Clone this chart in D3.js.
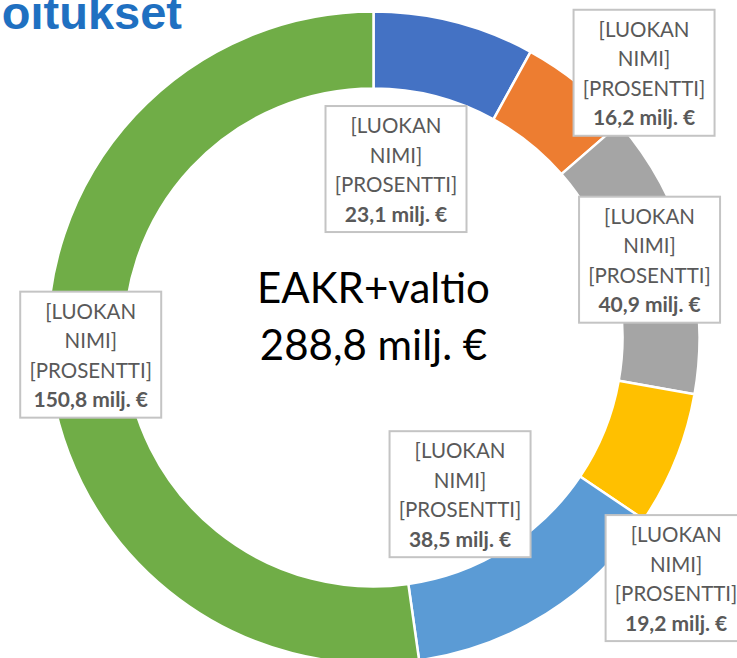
<!DOCTYPE html>
<html>
<head>
<meta charset="utf-8">
<script src="https://cdn.jsdelivr.net/npm/d3@7"></script>
<style>
  html, body { margin: 0; padding: 0; background: #fff; overflow: hidden; }
  svg { display: block; }
</style>
</head>
<body>
<svg id="chart" width="737" height="658"></svg>
<script>
// ---- data ----
const categories = ["[LUOKAN NIMI]", "[LUOKAN NIMI]", "[LUOKAN NIMI]", "[LUOKAN NIMI]", "[LUOKAN NIMI]", "[LUOKAN NIMI]"];
const percentLabels = ["[PROSENTTI]", "[PROSENTTI]", "[PROSENTTI]", "[PROSENTTI]", "[PROSENTTI]", "[PROSENTTI]"];
const values = [23.1, 16.2, 40.9, 19.2, 38.5, 150.8];
const totalValue = 288.8;
const centerTitle = "EAKR+valtio";
const chartTitle = "oitukset";

// ---- layout / style ----
const colors = ["#4472C4", "#ED7D31", "#A5A5A5", "#FFC000", "#5B9BD5", "#70AD47"];
const labelOffsets = [[-49, 110], [90, -41], [-1, -1], [36, 133], [-66, -87], [4, -3]];
const W = 737, H = 658;
const cx = 373.5, cy = 337.5;
const outerR = 326, innerR = 249;

const fi = d3.formatLocale({decimal: ",", thousands: "\u00a0", grouping: [3], currency: ["", " €"]});
const fmt = fi.format(".1f");

const svg = d3.select("#chart");

// title (cut off at top-left, as in the source)
svg.append("text")
  .attr("x", 182).attr("y", 29)
  .attr("text-anchor", "end")
  .attr("font-family", "Liberation Sans, Arial, sans-serif")
  .attr("font-weight", "bold")
  .attr("font-size", 47)
  .attr("fill", "#1F70C1")
  .text(chartTitle);

const g = svg.append("g").attr("transform", `translate(${cx},${cy})`);

const pie = d3.pie().sort(null).value(d => d).startAngle(0).endAngle(2 * Math.PI);
const arcs = pie(values);
const arc = d3.arc().innerRadius(innerR).outerRadius(outerR);
const midArc = d3.arc().innerRadius((innerR + outerR) / 2).outerRadius((innerR + outerR) / 2);

g.selectAll("path.slice")
  .data(arcs)
  .join("path")
  .attr("class", "slice")
  .attr("d", arc)
  .attr("fill", (d, i) => colors[i])
  .attr("stroke", "#fff")
  .attr("stroke-width", 2.5)
  .attr("stroke-linejoin", "miter");

// center text
const ct = g.append("text")
  .attr("text-anchor", "middle")
  .attr("font-family", "Lato, 'Open Sans', sans-serif")
  .attr("font-size", 42)
  .attr("fill", "#000");
ct.append("tspan").attr("x", 0).attr("y", 303 - cy).text(centerTitle);
ct.append("tspan").attr("x", 0).attr("y", 360 - cy).text(fmt(totalValue) + " milj. €");

// data labels
const boxW = 141, boxH = 126;
const labelFont = "Lato, 'Open Sans', sans-serif";
const lg = g.selectAll("g.lbl")
  .data(arcs)
  .join("g")
  .attr("class", "lbl")
  .attr("transform", (d, i) => {
    const c = midArc.centroid(d);
    return `translate(${c[0] + labelOffsets[i][0]},${c[1] + labelOffsets[i][1]})`;
  });

lg.append("rect")
  .attr("x", -boxW / 2).attr("y", -boxH / 2)
  .attr("width", boxW).attr("height", boxH)
  .attr("fill", "#fff")
  .attr("stroke", "#C4C4C4")
  .attr("stroke-width", 2);

const lt = lg.append("text")
  .attr("text-anchor", "middle")
  .attr("font-family", labelFont)
  .attr("font-size", 20.5)
  .attr("fill", "#595959");
lt.each(function(d, i) {
  const t = d3.select(this);
  const words = categories[i].split(" ");
  t.append("tspan").attr("x", 0).attr("y", -36).text(words[0]);
  t.append("tspan").attr("x", 0).attr("y", -6.5).text(words.slice(1).join(" "));
  t.append("tspan").attr("x", 0).attr("y", 23).text(percentLabels[i]);
  t.append("tspan").attr("x", 0).attr("y", 52.5).attr("font-weight", "bold").attr("font-size", 21).text(fmt(values[i]) + " milj. €");
});
</script>
</body>
</html>
